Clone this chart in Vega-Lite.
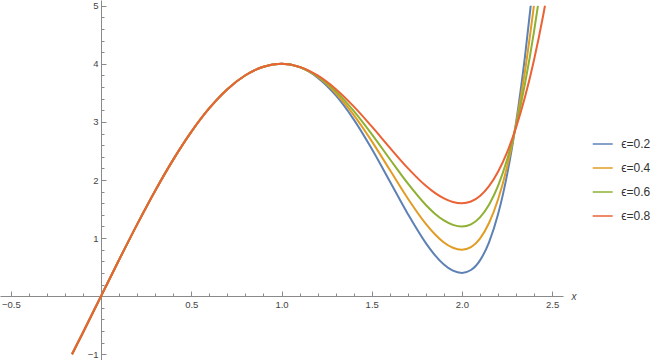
{
  "$schema": "https://vega.github.io/schema/vega-lite/v6.json",
  "autosize": "none",
  "padding": {"left": 0, "top": 0, "right": 96, "bottom": 0},
  "width": 563,
  "height": 360,
  "config": {"view": {"stroke": null}, "font": "Liberation Sans"},
  "data": {"values": [
    {"eps": "ϵ=0.2", "x": -0.1609, "y": -1.0},
    {"eps": "ϵ=0.2", "x": -0.1, "y": -0.6257},
    {"eps": "ϵ=0.2", "x": 0, "y": 0},
    {"eps": "ϵ=0.2", "x": 0.1, "y": 0.6257},
    {"eps": "ϵ=0.2", "x": 0.2, "y": 1.2361},
    {"eps": "ϵ=0.2", "x": 0.3, "y": 1.816},
    {"eps": "ϵ=0.2", "x": 0.4, "y": 2.3511},
    {"eps": "ϵ=0.2", "x": 0.5, "y": 2.8284},
    {"eps": "ϵ=0.2", "x": 0.6, "y": 3.2361},
    {"eps": "ϵ=0.2", "x": 0.7, "y": 3.564},
    {"eps": "ϵ=0.2", "x": 0.8, "y": 3.8042},
    {"eps": "ϵ=0.2", "x": 0.9, "y": 3.9508},
    {"eps": "ϵ=0.2", "x": 1.0, "y": 4.0},
    {"eps": "ϵ=0.2", "x": 1.1, "y": 3.9429},
    {"eps": "ϵ=0.2", "x": 1.2, "y": 3.7638},
    {"eps": "ϵ=0.2", "x": 1.3, "y": 3.4605},
    {"eps": "ϵ=0.2", "x": 1.4, "y": 3.0438},
    {"eps": "ϵ=0.2", "x": 1.5, "y": 2.5375},
    {"eps": "ϵ=0.2", "x": 1.6, "y": 1.9782},
    {"eps": "ϵ=0.2", "x": 1.7, "y": 1.4157},
    {"eps": "ϵ=0.2", "x": 1.8, "y": 0.9126},
    {"eps": "ϵ=0.2", "x": 1.85, "y": 0.7065},
    {"eps": "ϵ=0.2", "x": 1.9, "y": 0.5445},
    {"eps": "ϵ=0.2", "x": 1.95, "y": 0.4383},
    {"eps": "ϵ=0.2", "x": 2.0, "y": 0.4},
    {"eps": "ϵ=0.2", "x": 2.05, "y": 0.4496},
    {"eps": "ϵ=0.2", "x": 2.1, "y": 0.6163},
    {"eps": "ϵ=0.2", "x": 2.15, "y": 0.9269},
    {"eps": "ϵ=0.2", "x": 2.2, "y": 1.4084},
    {"eps": "ϵ=0.2", "x": 2.25, "y": 2.0875},
    {"eps": "ϵ=0.2", "x": 2.3, "y": 2.9911},
    {"eps": "ϵ=0.2", "x": 2.35, "y": 4.146},
    {"eps": "ϵ=0.2", "x": 2.381, "y": 5.0},

    {"eps": "ϵ=0.4", "x": -0.1609, "y": -1.0},
    {"eps": "ϵ=0.4", "x": -0.1, "y": -0.6257},
    {"eps": "ϵ=0.4", "x": 0, "y": 0},
    {"eps": "ϵ=0.4", "x": 0.1, "y": 0.6257},
    {"eps": "ϵ=0.4", "x": 0.2, "y": 1.2361},
    {"eps": "ϵ=0.4", "x": 0.3, "y": 1.816},
    {"eps": "ϵ=0.4", "x": 0.4, "y": 2.3511},
    {"eps": "ϵ=0.4", "x": 0.5, "y": 2.8284},
    {"eps": "ϵ=0.4", "x": 0.6, "y": 3.2361},
    {"eps": "ϵ=0.4", "x": 0.7, "y": 3.564},
    {"eps": "ϵ=0.4", "x": 0.8, "y": 3.8042},
    {"eps": "ϵ=0.4", "x": 0.9, "y": 3.9508},
    {"eps": "ϵ=0.4", "x": 1.0, "y": 4.0},
    {"eps": "ϵ=0.4", "x": 1.1, "y": 3.9454},
    {"eps": "ϵ=0.4", "x": 1.2, "y": 3.7778},
    {"eps": "ϵ=0.4", "x": 1.3, "y": 3.4993},
    {"eps": "ϵ=0.4", "x": 1.4, "y": 3.1224},
    {"eps": "ϵ=0.4", "x": 1.5, "y": 2.67},
    {"eps": "ϵ=0.4", "x": 1.6, "y": 2.1752},
    {"eps": "ϵ=0.4", "x": 1.7, "y": 1.6817},
    {"eps": "ϵ=0.4", "x": 1.8, "y": 1.2434},
    {"eps": "ϵ=0.4", "x": 1.85, "y": 1.0646},
    {"eps": "ϵ=0.4", "x": 1.9, "y": 0.9246},
    {"eps": "ϵ=0.4", "x": 1.95, "y": 0.8329},
    {"eps": "ϵ=0.4", "x": 2.0, "y": 0.8},
    {"eps": "ϵ=0.4", "x": 2.05, "y": 0.845},
    {"eps": "ϵ=0.4", "x": 2.1, "y": 0.992},
    {"eps": "ϵ=0.4", "x": 2.15, "y": 1.259},
    {"eps": "ϵ=0.4", "x": 2.2, "y": 1.664},
    {"eps": "ϵ=0.4", "x": 2.25, "y": 2.225},
    {"eps": "ϵ=0.4", "x": 2.3, "y": 2.96},
    {"eps": "ϵ=0.4", "x": 2.35, "y": 3.887},
    {"eps": "ϵ=0.4", "x": 2.399, "y": 5.0},

    {"eps": "ϵ=0.6", "x": -0.1609, "y": -1.0},
    {"eps": "ϵ=0.6", "x": -0.1, "y": -0.6257},
    {"eps": "ϵ=0.6", "x": 0, "y": 0},
    {"eps": "ϵ=0.6", "x": 0.1, "y": 0.6257},
    {"eps": "ϵ=0.6", "x": 0.2, "y": 1.2361},
    {"eps": "ϵ=0.6", "x": 0.3, "y": 1.816},
    {"eps": "ϵ=0.6", "x": 0.4, "y": 2.3511},
    {"eps": "ϵ=0.6", "x": 0.5, "y": 2.8284},
    {"eps": "ϵ=0.6", "x": 0.6, "y": 3.2361},
    {"eps": "ϵ=0.6", "x": 0.7, "y": 3.564},
    {"eps": "ϵ=0.6", "x": 0.8, "y": 3.8042},
    {"eps": "ϵ=0.6", "x": 0.9, "y": 3.9508},
    {"eps": "ϵ=0.6", "x": 1.0, "y": 4.0},
    {"eps": "ϵ=0.6", "x": 1.1, "y": 3.9464},
    {"eps": "ϵ=0.6", "x": 1.2, "y": 3.7872},
    {"eps": "ϵ=0.6", "x": 1.3, "y": 3.5303},
    {"eps": "ϵ=0.6", "x": 1.4, "y": 3.1908},
    {"eps": "ϵ=0.6", "x": 1.5, "y": 2.7915},
    {"eps": "ϵ=0.6", "x": 1.6, "y": 2.362},
    {"eps": "ϵ=0.6", "x": 1.7, "y": 1.9399},
    {"eps": "ϵ=0.6", "x": 1.8, "y": 1.5696},
    {"eps": "ϵ=0.6", "x": 1.85, "y": 1.4199},
    {"eps": "ϵ=0.6", "x": 1.9, "y": 1.3032},
    {"eps": "ϵ=0.6", "x": 1.95, "y": 1.2272},
    {"eps": "ϵ=0.6", "x": 2.0, "y": 1.2},
    {"eps": "ϵ=0.6", "x": 2.05, "y": 1.2369},
    {"eps": "ϵ=0.6", "x": 2.1, "y": 1.3567},
    {"eps": "ϵ=0.6", "x": 2.15, "y": 1.5727},
    {"eps": "ϵ=0.6", "x": 2.2, "y": 1.8986},
    {"eps": "ϵ=0.6", "x": 2.25, "y": 2.3477},
    {"eps": "ϵ=0.6", "x": 2.3, "y": 2.9335},
    {"eps": "ϵ=0.6", "x": 2.35, "y": 3.6696},
    {"eps": "ϵ=0.6", "x": 2.4, "y": 4.5693},
    {"eps": "ϵ=0.6", "x": 2.421, "y": 5.0},

    {"eps": "ϵ=0.8", "x": -0.1609, "y": -1.0},
    {"eps": "ϵ=0.8", "x": -0.1, "y": -0.6257},
    {"eps": "ϵ=0.8", "x": 0, "y": 0},
    {"eps": "ϵ=0.8", "x": 0.1, "y": 0.6257},
    {"eps": "ϵ=0.8", "x": 0.2, "y": 1.2361},
    {"eps": "ϵ=0.8", "x": 0.3, "y": 1.816},
    {"eps": "ϵ=0.8", "x": 0.4, "y": 2.3511},
    {"eps": "ϵ=0.8", "x": 0.5, "y": 2.8284},
    {"eps": "ϵ=0.8", "x": 0.6, "y": 3.2361},
    {"eps": "ϵ=0.8", "x": 0.7, "y": 3.564},
    {"eps": "ϵ=0.8", "x": 0.8, "y": 3.8042},
    {"eps": "ϵ=0.8", "x": 0.9, "y": 3.9508},
    {"eps": "ϵ=0.8", "x": 1.0, "y": 4.0},
    {"eps": "ϵ=0.8", "x": 1.1, "y": 3.9487},
    {"eps": "ϵ=0.8", "x": 1.2, "y": 3.8007},
    {"eps": "ϵ=0.8", "x": 1.3, "y": 3.5682},
    {"eps": "ϵ=0.8", "x": 1.4, "y": 3.2683},
    {"eps": "ϵ=0.8", "x": 1.5, "y": 2.9227},
    {"eps": "ϵ=0.8", "x": 1.6, "y": 2.5579},
    {"eps": "ϵ=0.8", "x": 1.7, "y": 2.205},
    {"eps": "ϵ=0.8", "x": 1.8, "y": 1.8999},
    {"eps": "ϵ=0.8", "x": 1.85, "y": 1.7777},
    {"eps": "ϵ=0.8", "x": 1.9, "y": 1.6831},
    {"eps": "ϵ=0.8", "x": 1.95, "y": 1.6218},
    {"eps": "ϵ=0.8", "x": 2.0, "y": 1.6},
    {"eps": "ϵ=0.8", "x": 2.05, "y": 1.6302},
    {"eps": "ϵ=0.8", "x": 2.1, "y": 1.7256},
    {"eps": "ϵ=0.8", "x": 2.15, "y": 1.8935},
    {"eps": "ϵ=0.8", "x": 2.2, "y": 2.1412},
    {"eps": "ϵ=0.8", "x": 2.25, "y": 2.476},
    {"eps": "ϵ=0.8", "x": 2.3, "y": 2.9055},
    {"eps": "ϵ=0.8", "x": 2.35, "y": 3.4366},
    {"eps": "ϵ=0.8", "x": 2.4, "y": 4.0768},
    {"eps": "ϵ=0.8", "x": 2.45, "y": 4.8335},
    {"eps": "ϵ=0.8", "x": 2.46, "y": 5.0}
  ]},
  "mark": {"type": "line", "interpolate": "monotone", "strokeWidth": 2},
  "encoding": {
    "x": {
      "field": "x", "type": "quantitative",
      "scale": {"domain": [-0.56, 2.56], "nice": false, "zero": false},
      "axis": {
        "orient": "bottom", "offset": -64, "grid": false,
        "values": [-0.5,-0.4,-0.3,-0.2,-0.1,0,0.1,0.2,0.3,0.4,0.5,0.6,0.7,0.8,0.9,1.0,1.1,1.2,1.3,1.4,1.5,1.6,1.7,1.8,1.9,2.0,2.1,2.2,2.3,2.4,2.5],
        "labelExpr": "(datum.value == 0 || abs(datum.value*2 - round(datum.value*2)) > 0.001) ? '' : format(datum.value, '.1f')",
        "tickSize": {"condition": {"test": "abs(datum.value*2 - round(datum.value*2)) < 0.001", "value": -5}, "value": -3},
        "labelPadding": 8,
        "labelFlush": false, "labelOverlap": false, "labelBound": false,
        "labelFontSize": 9.5, "labelColor": "#444444",
        "domainColor": "#8a8a8a", "tickColor": "#8a8a8a", "domainWidth": 1, "tickWidth": 1,
        "title": "x", "titleFontStyle": "italic", "titleFontWeight": "normal", "titleFontSize": 10,
        "titleColor": "#444444", "titleX": 571, "titleY": 0, "titleAlign": "left", "titleBaseline": "middle", "titleAnchor": null
      }
    },
    "y": {
      "field": "y", "type": "quantitative",
      "scale": {"domain": [-1.1, 5.1], "nice": false, "zero": false},
      "axis": {
        "orient": "left", "offset": -101, "grid": false,
        "values": [-1,-0.8,-0.6,-0.4,-0.2,0,0.2,0.4,0.6,0.8,1,1.2,1.4,1.6,1.8,2,2.2,2.4,2.6,2.8,3,3.2,3.4,3.6,3.8,4,4.2,4.4,4.6,4.8,5],
        "labelExpr": "(datum.value == 0 || abs(datum.value - round(datum.value)) > 0.001) ? '' : format(datum.value, 'd')",
        "tickSize": {"condition": {"test": "abs(datum.value - round(datum.value)) < 0.001", "value": -5}, "value": -3},
        "labelPadding": 8,
        "labelFlush": false, "labelOverlap": false, "labelBound": false,
        "labelFontSize": 9.5, "labelColor": "#444444",
        "domainColor": "#8a8a8a", "tickColor": "#8a8a8a", "domainWidth": 1, "tickWidth": 1,
        "title": null
      }
    },
    "color": {
      "field": "eps", "type": "nominal",
      "scale": {"domain": ["ϵ=0.2", "ϵ=0.4", "ϵ=0.6", "ϵ=0.8"], "range": ["#5E81B5", "#E19C24", "#8FB032", "#EB6235"]},
      "legend": {
        "orient": "none", "legendX": 591.7, "legendY": 133, "title": null,
        "symbolType": "stroke", "symbolSize": 400, "symbolStrokeWidth": 1.5,
        "labelFontSize": 12, "labelOffset": 7.5, "rowPadding": 7, "padding": 0,
        "labelColor": "#333333", "labelFont": "Liberation Sans"
      }
    }
  }
}
